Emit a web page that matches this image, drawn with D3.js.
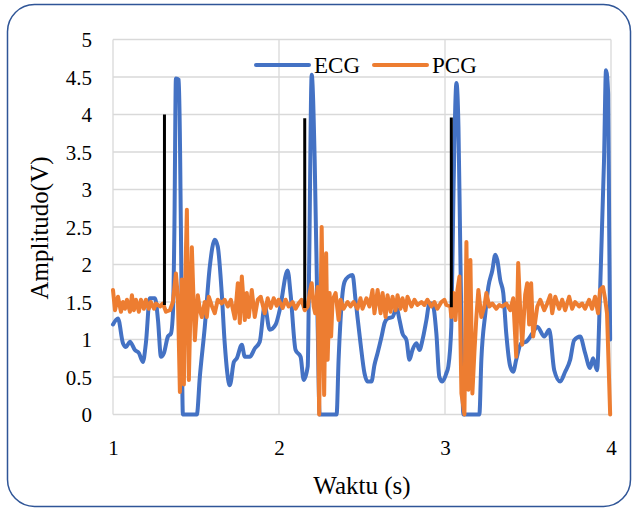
<!DOCTYPE html>
<html>
<head>
<meta charset="utf-8">
<script src="https://cdn.jsdelivr.net/npm/d3@7"></script>
<style>
  html, body { margin: 0; padding: 0; background: #fff; }
  svg { display: block; }
  svg text { font-family: "Liberation Serif", "Times New Roman", serif; }
</style>
</head>
<body>
<div id="chart"></div>
<script>
// ECG series (time in s, amplitude in V)
const ecgTime = [1.000,1.030,1.060,1.078,1.102,1.132,1.156,1.180,1.198,1.222,1.253,1.271,1.289,1.307,1.331,1.349,1.361,1.370,1.379,1.397,1.409,1.421,1.505,1.523,1.553,1.583,1.613,1.631,1.655,1.673,1.704,1.728,1.746,1.776,1.794,1.824,1.854,1.884,1.914,1.944,1.980,2.004,2.052,2.070,2.100,2.130,2.149,2.173,2.182,2.197,2.215,2.233,2.245,2.347,2.359,2.383,2.395,2.419,2.443,2.461,2.491,2.515,2.533,2.557,2.575,2.594,2.618,2.636,2.654,2.684,2.708,2.726,2.744,2.768,2.786,2.804,2.828,2.846,2.864,2.888,2.906,2.924,2.948,2.966,2.984,3.008,3.020,3.038,3.051,3.069,3.081,3.093,3.111,3.207,3.219,3.243,3.261,3.285,3.303,3.315,3.333,3.351,3.369,3.393,3.411,3.429,3.459,3.489,3.526,3.556,3.598,3.628,3.658,3.694,3.724,3.754,3.778,3.814,3.844,3.874,3.892,3.916,3.934,3.958,3.970,3.983,3.989,3.995];
const ecgValue = [1.20,1.28,0.95,0.90,0.97,0.86,0.82,0.70,0.95,1.55,1.55,1.26,0.77,0.82,1.04,1.08,1.35,2.50,4.48,4.46,2.50,0,0,0.50,1.17,1.97,2.33,2.24,1.62,0.95,0.39,0.70,0.75,0.93,0.77,0.77,0.88,0.97,1.45,1.13,1.20,1.39,1.92,1.60,0.86,0.77,0.46,0.64,2.06,4.53,3.39,1.17,0,0,0.73,1.62,1.77,1.84,1.86,1.53,0.95,0.55,0.44,0.44,0.66,0.82,1.04,1.22,1.28,1.30,1.42,1.26,1.08,0.99,0.73,0.86,0.95,0.86,0.99,1.26,1.48,1.48,1.08,0.50,0.44,0.55,0.64,1.17,2.95,4.42,3.84,2.06,0,0,0.73,1.35,1.70,1.92,2.13,2.06,1.79,1.62,1.08,0.64,0.57,0.73,0.95,0.97,1.08,1.17,1.04,1.13,0.59,0.44,0.57,0.73,0.99,1.04,0.82,0.62,0.75,0.59,1.62,3.39,4.59,4.28,2.50,1.00];

// PCG series
const pcgTime = [1.000,1.012,1.030,1.048,1.060,1.072,1.084,1.102,1.114,1.126,1.138,1.156,1.168,1.186,1.198,1.216,1.228,1.247,1.259,1.283,1.301,1.319,1.343,1.361,1.379,1.391,1.403,1.415,1.427,1.436,1.445,1.457,1.475,1.493,1.511,1.523,1.535,1.553,1.565,1.577,1.595,1.613,1.631,1.655,1.673,1.692,1.710,1.734,1.752,1.764,1.776,1.794,1.806,1.818,1.836,1.854,1.872,1.890,1.914,1.932,1.950,1.968,1.986,1.998,2.022,2.040,2.058,2.082,2.100,2.118,2.136,2.155,2.173,2.185,2.197,2.209,2.218,2.233,2.242,2.257,2.272,2.284,2.293,2.305,2.314,2.323,2.341,2.359,2.371,2.389,2.413,2.431,2.449,2.473,2.491,2.503,2.527,2.545,2.563,2.575,2.594,2.612,2.624,2.642,2.654,2.672,2.684,2.702,2.714,2.732,2.744,2.762,2.774,2.798,2.816,2.834,2.858,2.876,2.894,2.918,2.936,2.954,2.978,2.996,3.008,3.032,3.038,3.051,3.063,3.075,3.087,3.099,3.117,3.129,3.141,3.153,3.165,3.177,3.189,3.201,3.219,3.237,3.249,3.267,3.285,3.309,3.327,3.345,3.369,3.393,3.411,3.429,3.441,3.453,3.465,3.483,3.495,3.507,3.519,3.531,3.556,3.574,3.598,3.616,3.634,3.646,3.664,3.688,3.706,3.724,3.748,3.766,3.784,3.808,3.826,3.844,3.868,3.886,3.904,3.922,3.934,3.952,3.964,3.976,3.995];
const pcgValue = [1.66,1.39,1.57,1.37,1.50,1.41,1.53,1.37,1.59,1.39,1.53,1.37,1.53,1.41,1.53,1.41,1.50,1.41,1.48,1.44,1.48,1.37,1.39,1.50,1.88,1.55,0.30,1.80,0.40,1.84,2.73,0.46,2.23,0.99,1.59,1.40,1.30,1.50,1.30,1.57,1.45,1.35,1.53,1.48,1.53,1.44,1.53,1.28,1.75,1.22,1.84,1.26,1.62,1.30,1.66,1.30,1.53,1.57,1.35,1.55,1.42,1.55,1.45,1.53,1.42,1.53,1.44,1.50,1.41,1.48,1.53,1.39,1.44,1.62,1.75,1.44,1.35,1.70,0,2.50,0.26,2.15,0.73,1.62,1.04,1.53,1.62,1.26,1.53,1.41,1.50,1.44,1.50,1.41,1.55,1.41,1.55,1.44,1.66,1.35,1.66,1.35,1.62,1.30,1.59,1.37,1.57,1.39,1.59,1.41,1.55,1.39,1.57,1.44,1.53,1.46,1.50,1.46,1.53,1.44,1.50,1.41,1.50,1.53,1.46,1.44,1.30,1.62,1.26,1.66,1.84,0.28,0,2.30,0.33,2.06,0.28,0.82,1.30,1.66,1.30,1.44,1.62,1.44,1.48,1.41,1.46,1.44,1.48,1.39,1.55,0.77,2.02,1.40,0.93,1.60,1.75,1.20,1.75,1.04,1.44,1.53,1.39,1.48,1.59,1.35,1.57,1.41,1.53,1.39,1.57,1.41,1.50,1.44,1.48,1.41,1.53,1.41,1.57,1.35,1.66,1.70,1.55,1.35,0];

// black vertical markers
const markerTime = [1.310, 2.155, 3.038];
const markerTop = [4.00, 3.95, 3.96];
const markerBottom = [1.46, 1.42, 1.43];

const xTicks = [1, 2, 3, 4];
const yTicks = [0, 0.5, 1, 1.5, 2, 2.5, 3, 3.5, 4, 4.5, 5];
const seriesNames = ["ECG", "PCG"];

const width = 638, height = 510;
const margin = {left: 113, right: 27, top: 39.5, bottom: 95.5};
const innerWidth = width - margin.left - margin.right;
const innerHeight = height - margin.top - margin.bottom;

const serif = '"Liberation Serif", "Times New Roman", serif';
const colorEcg = "#4472C4";
const colorPcg = "#ED7D31";
const gridColor = "#d9d9d9";

const svg = d3.select("#chart")
    .append("svg")
    .attr("width", width)
    .attr("height", height);

// outer frame
svg.append("rect")
    .attr("x", 7.5)
    .attr("y", 4.5)
    .attr("width", 623)
    .attr("height", 502)
    .attr("rx", 27)
    .attr("ry", 27)
    .attr("fill", "#fff")
    .attr("stroke", "#2F5597")
    .attr("stroke-width", 1.5);

const g = svg.append("g")
    .attr("transform", `translate(${margin.left},${margin.top})`);

// Scales
const x = d3.scaleLinear().domain([1, 4]).range([0, innerWidth]);
const y = d3.scaleLinear().domain([0, 5]).range([innerHeight, 0]);

// Gridlines
g.selectAll("line.hgrid")
    .data(yTicks)
    .join("line")
    .attr("class", "hgrid")
    .attr("x1", 0)
    .attr("x2", innerWidth)
    .attr("y1", d => y(d))
    .attr("y2", d => y(d))
    .attr("stroke", gridColor)
    .attr("stroke-width", 1.3);

g.selectAll("line.vgrid")
    .data(xTicks)
    .join("line")
    .attr("class", "vgrid")
    .attr("x1", d => x(d))
    .attr("x2", d => x(d))
    .attr("y1", 0)
    .attr("y2", innerHeight)
    .attr("stroke", gridColor)
    .attr("stroke-width", 1.3);

// Y-axis labels
const yAxis = g.append("g")
    .attr("font-family", serif)
    .call(d3.axisLeft(y).tickValues(yTicks).tickSize(0).tickPadding(21).tickFormat(d3.format("")));
yAxis.attr("font-family", serif);
yAxis.select(".domain").remove();
yAxis.selectAll("text")
    .style("font-family", serif)
    .style("font-size", "21px")
    .attr("fill", "#000")
    .attr("dy", "0.35em");

// X-axis labels
const xAxis = g.append("g")
    .attr("transform", `translate(0,${innerHeight})`)
    .call(d3.axisBottom(x).tickValues(xTicks).tickSize(0).tickPadding(26).tickFormat(d3.format("d")));
xAxis.attr("font-family", serif);
xAxis.select(".domain").remove();
xAxis.selectAll("text")
    .style("font-family", serif)
    .style("font-size", "21px")
    .attr("fill", "#000");

// Axis titles
g.append("text")
    .attr("x", innerWidth / 2)
    .attr("y", innerHeight + 79)
    .attr("text-anchor", "middle")
    .style("font-family", serif)
    .style("font-size", "25px")
    .attr("fill", "#000")
    .text("Waktu (s)");

g.append("text")
    .attr("transform", "rotate(-90)")
    .attr("x", -(228 - margin.top))
    .attr("y", -65)
    .attr("text-anchor", "middle")
    .style("font-family", serif)
    .style("font-size", "25px")
    .attr("fill", "#000")
    .text("Amplitudo(V)");

// Lines
const ecgData = ecgTime.map((t, i) => ({t: t, v: ecgValue[i]}));
const pcgData = pcgTime.map((t, i) => ({t: t, v: pcgValue[i]}));

const lineSmooth = d3.line()
    .x(d => x(d.t))
    .y(d => y(d.v))
    .curve(d3.curveMonotoneX);

const lineStraight = d3.line()
    .x(d => x(d.t))
    .y(d => y(d.v));

g.append("path")
    .datum(ecgData)
    .attr("fill", "none")
    .attr("stroke", colorEcg)
    .attr("stroke-width", 4)
    .attr("stroke-linejoin", "round")
    .attr("stroke-linecap", "round")
    .attr("d", lineSmooth);

g.append("path")
    .datum(pcgData)
    .attr("fill", "none")
    .attr("stroke", colorPcg)
    .attr("stroke-width", 4)
    .attr("stroke-linejoin", "round")
    .attr("stroke-linecap", "round")
    .attr("d", lineStraight);

// Marker lines
g.selectAll("line.marker")
    .data(markerTime)
    .join("line")
    .attr("class", "marker")
    .attr("x1", d => x(d))
    .attr("x2", d => x(d))
    .attr("y1", (d, i) => y(markerTop[i]))
    .attr("y2", (d, i) => y(markerBottom[i]))
    .attr("stroke", "#000")
    .attr("stroke-width", 3);

// Legend
const legend = svg.append("g")
    .attr("transform", "translate(256,65)");

const legendColors = [colorEcg, colorPcg];
const legendItem = legend.selectAll("g")
    .data(seriesNames)
    .join("g")
    .attr("transform", (d, i) => `translate(${i * 118},0)`);

legendItem.append("line")
    .attr("x1", 0)
    .attr("x2", 53)
    .attr("y1", 0)
    .attr("y2", 0)
    .attr("stroke", (d, i) => legendColors[i])
    .attr("stroke-width", 4)
    .attr("stroke-linecap", "round");

legendItem.append("text")
    .attr("x", 58)
    .attr("y", 8)
    .style("font-family", serif)
    .style("font-size", "23px")
    .attr("fill", "#000")
    .text(d => d);
</script>
</body>
</html>
